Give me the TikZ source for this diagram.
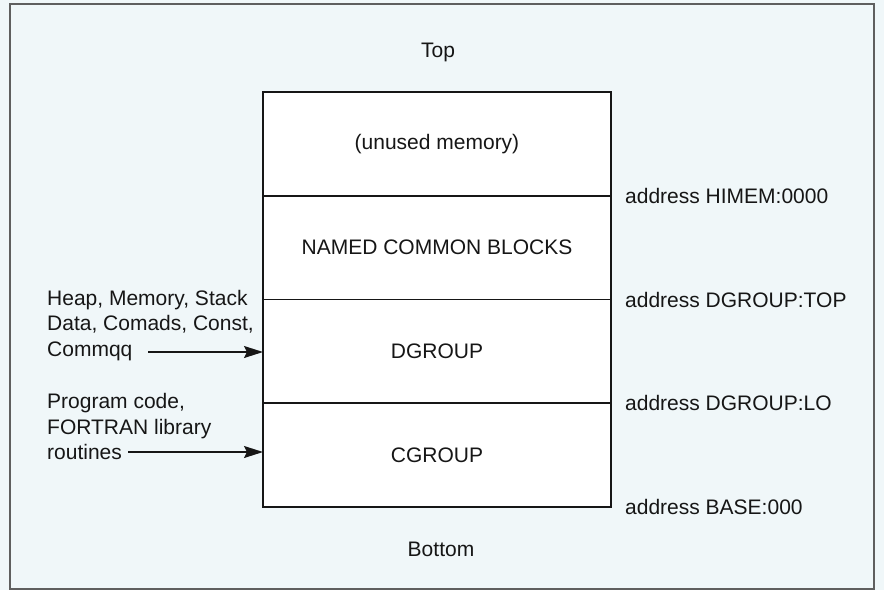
\documentclass[tikz,border=0pt]{standalone}
\usepackage{fontspec}
\setmainfont{Liberation Sans}
\usepackage{tikz}
\usetikzlibrary{
	positioning,
	arrows.meta
}
\definecolor{PaperTint}{RGB}{240,247,249}
\definecolor{FrameGray}{RGB}{95,95,95}
\definecolor{InkBlack}{RGB}{22,22,22}
\tikzset{
	memblock/.style={draw=InkBlack, fill=white, line width=1.7pt,
		minimum width=348pt, minimum height=103.75pt,
		inner sep=0pt, outer sep=0pt, text=InkBlack},
	addrlabel/.style={inner sep=0pt, text=InkBlack},
	sidelabel/.style={anchor=west, align=left, inner sep=0pt, text=InkBlack},
	feedarrow/.style={-{Stealth[length=19pt,width=12pt,inset=3pt]}, line width=1.5pt, InkBlack}
}

\begin{document}
\begin{tikzpicture}[x=1pt, y=-1pt, font=\fontsize{21}{25.5}\selectfont]
				
				\useasboundingbox (0,0) rectangle (884,590);
				\fill[PaperTint] (0,0) rectangle (884,590);
				\draw[FrameGray, line width=1.5pt] (10,4) rectangle (874,589);
				
				% memory map, top to bottom
				\node[memblock] (unused) at (437,143.9) {(unused memory)};
				
				\node[
				memblock,
				below=0pt of unused
				] (named) {NAMED COMMON BLOCKS};
				
				\node[
				memblock,
				below=0pt of named
				] (dgroup) {DGROUP};
				
				\node[
				memblock,
				below=0pt of dgroup
				] (cgroup) {CGROUP};
				
				\node[text=InkBlack] (toplabel) at (438,52) {Top};
				\node[text=InkBlack] (bottomlabel) at (441,549) {Bottom};
				
				% addresses
				\node[addrlabel, right=14pt of unused.south east] (himem) {address HIMEM:0000};
				\node[addrlabel, right=14pt of named.south east] (dgtop) {address DGROUP:TOP};
				\node[addrlabel, right=14pt of dgroup.south east] (dglo) {address DGROUP:LO};
				\node[addrlabel, right=14pt of cgroup.south east] (base) {address BASE:000};
				
				% contents fed in from the left
				\node[sidelabel] (datalist) at (47,325.5) {Heap, Memory, Stack\\Data, Comads, Const,\\Commqq};
				\node[sidelabel] (codelist) at (47,426.5) {Program code,\\FORTRAN library\\routines};
				
				\coordinate (datafeed) at (148,352);
				\coordinate (codefeed) at (128,452);
				
				\draw[feedarrow] (datafeed) -- (datafeed -| dgroup.west);
				\draw[feedarrow] (codefeed) -- (codefeed -| cgroup.west);
				
\end{tikzpicture}
\end{document}
